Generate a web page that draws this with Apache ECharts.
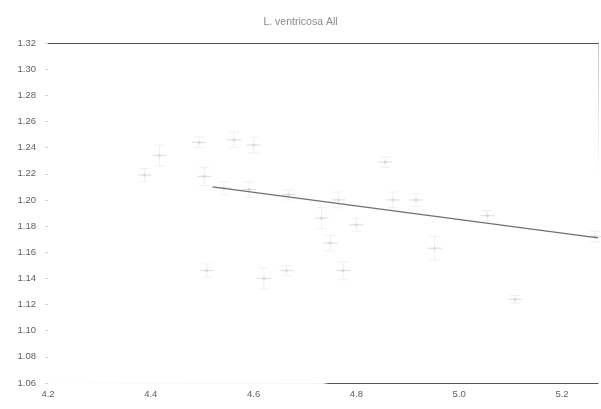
<!DOCTYPE html>
<html>
<head>
<meta charset="utf-8">
<style>
  html, body { margin: 0; padding: 0; background: #fff; }
  #chart { width: 601px; height: 409px; }
</style>
<script src="https://cdn.jsdelivr.net/npm/echarts@6/dist/echarts.min.js"></script>
</head>
<body>
<div id="chart"></div>
<script>
// Shell length (x) against shape ratio (y), one mark per sample with its error bar
const titleText = 'L. ventricosa All';
const xTicks = [4.2, 4.4, 4.6, 4.8, 5.0, 5.2];
const yTicks = [1.06, 1.08, 1.10, 1.12, 1.14, 1.16, 1.18, 1.20, 1.22, 1.24, 1.26, 1.28, 1.30, 1.32];

const sampleX = [4.562, 4.417, 4.388, 4.504, 4.494, 4.600, 4.542, 4.591, 4.668, 4.765,
                 4.732, 4.800, 4.856, 4.871, 4.916, 4.952, 5.055, 4.774, 4.749, 4.664,
                 4.620, 4.509, 5.264, 5.109];
const sampleY = [1.246, 1.234, 1.219, 1.218, 1.244, 1.242, 1.209, 1.208, 1.204, 1.200,
                 1.186, 1.181, 1.229, 1.200, 1.200, 1.163, 1.188, 1.146, 1.167, 1.146,
                 1.140, 1.146, 1.172, 1.124];
const sampleErr = [0.006, 0.008, 0.005, 0.007, 0.004, 0.006, 0.005, 0.006, 0.004, 0.006,
                   0.008, 0.005, 0.004, 0.006, 0.005, 0.009, 0.004, 0.007, 0.006, 0.004,
                   0.008, 0.005, 0.004, 0.003];

// Fitted trend, read at its two visible ends
const fitX = [4.52, 5.27];
const fitY = [1.210, 1.171];

const xMin = 4.2, xMax = 5.27;
const yMin = 1.06, yMax = 1.32;

const points = sampleX.map((x, i) => [x, sampleY[i], sampleErr[i]]);
const fitLine = fitX.map((x, i) => [x, fitY[i]]);

const chart = echarts.init(document.getElementById('chart'), null, { renderer: 'canvas' });

const labelFont = { fontFamily: 'Liberation Sans', fontSize: 9.5, color: '#5e5e5e' };

chart.setOption({
  backgroundColor: '#fff',
  animation: false,
  title: {
    text: titleText,
    left: 'center',
    top: 12,
    textStyle: { fontFamily: 'Liberation Sans', fontSize: 10.5, fontWeight: 'normal', color: '#8a8a8a' }
  },
  grid: { left: 48, right: 3, top: 43, bottom: 26 },
  xAxis: [{
    type: 'value',
    min: xMin,
    max: xMax,
    interval: 0.2,
    position: 'bottom',
    splitLine: { show: false },
    axisTick: { show: false },
    axisLine: {
      show: true,
      lineStyle: {
        width: 1.2,
        color: {
          type: 'linear', x: 0, y: 0, x2: 1, y2: 0,
          colorStops: [
            { offset: 0, color: '#fdfdfd' },
            { offset: 0.5, color: '#f4f4f4' },
            { offset: 0.51, color: '#555' },
            { offset: 1, color: '#555' }
          ]
        }
      }
    },
    axisLabel: Object.assign({
      margin: 6,
      showMaxLabel: false,
      formatter: v => xTicks.some(t => Math.abs(t - v) < 1e-6) ? v.toFixed(1) : ''
    }, labelFont)
  }, {
    type: 'value',
    min: xMin,
    max: xMax,
    position: 'top',
    splitLine: { show: false },
    axisTick: { show: false },
    axisLabel: { show: false },
    axisLine: { show: true, lineStyle: { color: '#555', width: 1.2 } }
  }],
  yAxis: [{
    type: 'value',
    min: yMin,
    max: yMax,
    interval: 0.02,
    splitLine: { show: false },
    axisLine: { show: false },
    axisTick: { show: true, length: 3, lineStyle: { color: '#d4d4d4' } },
    axisLabel: Object.assign({
      margin: 12,
      formatter: v => v.toFixed(2)
    }, labelFont)
  }, {
    type: 'value',
    min: yMin,
    max: yMax,
    position: 'right',
    splitLine: { show: false },
    axisTick: { show: false },
    axisLabel: { show: false },
    axisLine: {
      show: true,
      lineStyle: {
        color: {
          type: 'linear', x: 0, y: 0, x2: 0, y2: 1,
          colorStops: [
            { offset: 0, color: '#c4c4c4' },
            { offset: 0.25, color: '#ebebeb' },
            { offset: 0.4, color: '#ffffff' },
            { offset: 1, color: '#ffffff' }
          ]
        }
      }
    }
  }],
  series: [{
    // faint error bars with caps and a centre dash
    type: 'custom',
    name: 'samples',
    data: points,
    renderItem: function (params, api) {
      const x = api.value(0), y = api.value(1), e = api.value(2);
      const hi = api.coord([x, y + e]);
      const lo = api.coord([x, y - e]);
      const c = api.coord([x, y]);
      const cap = 5;
      const style = { stroke: '#f0f0f0', lineWidth: 1 };
      return {
        type: 'group',
        children: [
          { type: 'line', shape: { x1: hi[0], y1: hi[1], x2: lo[0], y2: lo[1] }, style: style },
          { type: 'line', shape: { x1: hi[0] - cap, y1: hi[1], x2: hi[0] + cap, y2: hi[1] }, style: style },
          { type: 'line', shape: { x1: lo[0] - cap, y1: lo[1], x2: lo[0] + cap, y2: lo[1] }, style: style },
          { type: 'line', shape: { x1: c[0] - 7, y1: c[1], x2: c[0] + 7, y2: c[1] }, style: { stroke: '#e2e2e2', lineWidth: 1.2 } }
        ]
      };
    },
    z: 2
  }, {
    type: 'scatter',
    data: points.map(p => [p[0], p[1]]),
    symbolSize: 3,
    itemStyle: { color: '#d2d2d2' },
    z: 3
  }, {
    type: 'line',
    data: fitLine,
    showSymbol: false,
    lineStyle: { color: '#707070', width: 1.3 },
    z: 4
  }]
});
</script>
</body>
</html>
